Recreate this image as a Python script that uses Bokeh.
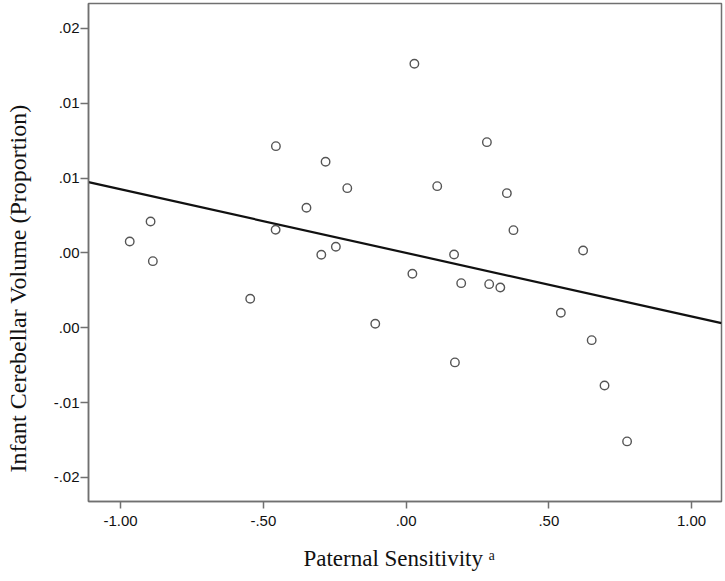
import numpy as np
from bokeh.plotting import figure
from bokeh.models import FixedTicker, Range1d, ColumnDataSource
from bokeh.embed import file_html
from bokeh.resources import INLINE

# --- data ---
paternal_sensitivity = [0.029, -0.456, -0.282, -0.206, -0.349, 0.109, 0.283, 0.353,
                        -0.895, -0.968, -0.887, -0.457, -0.246, -0.297, -0.546, -0.108,
                        0.376, 0.620, 0.168, 0.022, 0.193, 0.291, 0.330, 0.542,
                        0.650, 0.171, 0.695, 0.774]
cerebellar_volume = [0.012642, 0.007136, 0.006094, 0.004330, 0.003020, 0.004463, 0.007403, 0.003996,
                     0.002105, 0.000768, -0.000548, 0.001550, 0.000414, -0.000120, -0.003060, -0.004731,
                     0.001523, 0.000167, -0.000100, -0.001390, -0.002018, -0.002085, -0.002305, -0.003996,
                     -0.005827, -0.007316, -0.008854, -0.012595]
fit_intercept = 0.000004
fit_slope = -0.004249

x_ticks = [-1.0, -0.5, 0.0, 0.5, 1.0]
x_tick_labels = ["-1.00", "-.50", ".00", ".50", "1.00"]
y_ticks = [0.015, 0.010, 0.005, 0.0, -0.005, -0.010, -0.015]
y_tick_labels = [".02", ".01", ".01", ".00", ".00", "-.01", "-.02"]

x_start, x_end = -1.1124, 1.1047
y_start, y_end = -0.016611, 0.016670

AX = "#707070"
NB = "\u00a0"

p = figure(width=725, height=581, output_backend="svg", toolbar_location=None,
           x_range=Range1d(x_start, x_end), y_range=Range1d(y_start, y_end),
           min_border_left=88, min_border_right=4, min_border_top=3, min_border_bottom=80)
p.background_fill_color = "white"
p.border_fill_color = "white"
p.outline_line_color = AX
p.outline_line_width = 1.5
p.xgrid.visible = False
p.ygrid.visible = False

for ax in (p.xaxis[0], p.yaxis[0]):
    ax.axis_line_color = AX
    ax.axis_line_width = 1.5
    ax.major_tick_line_color = AX
    ax.major_tick_line_width = 1.5
    ax.major_tick_in = 0
    ax.minor_tick_line_color = None
    ax.major_label_text_font = "Liberation Sans"
    ax.major_label_text_font_size = "15px"
    ax.major_label_text_color = "#111111"
    ax.axis_label_text_font = "Liberation Serif"
    ax.axis_label_text_font_style = "normal"
    ax.axis_label_text_color = "#111111"

p.xaxis.ticker = FixedTicker(ticks=x_ticks)
p.xaxis.major_label_overrides = {t: l for t, l in zip(x_ticks, x_tick_labels)}
p.xaxis.major_tick_out = 7
p.xaxis.major_label_standoff = 7
p.xaxis.axis_label = "Paternal Sensitivity" + NB + "\u1d43" + NB * 2
p.xaxis.axis_label_text_font_size = "23px"
p.xaxis.axis_label_standoff = 17

p.yaxis.ticker = FixedTicker(ticks=y_ticks)
p.yaxis.major_label_overrides = {t: l for t, l in zip(y_ticks, y_tick_labels)}
p.yaxis.major_tick_out = 8
p.yaxis.major_label_standoff = 1
p.yaxis.axis_label = "Infant Cerebellar Volume (Proportion)" + NB * 12
p.yaxis.axis_label_text_font_size = "24px"
p.yaxis.axis_label_standoff = 20

# regression line
lx = np.array([x_start, x_end])
ly = fit_intercept + fit_slope * lx
p.line(lx, ly, line_color="#111111", line_width=2.2)

src = ColumnDataSource(dict(x=paternal_sensitivity, y=cerebellar_volume))
p.scatter("x", "y", source=src, size=8.5, fill_color=None, line_color="#555555", line_width=1.4)

open("out.html", "w").write(file_html(p, INLINE))
